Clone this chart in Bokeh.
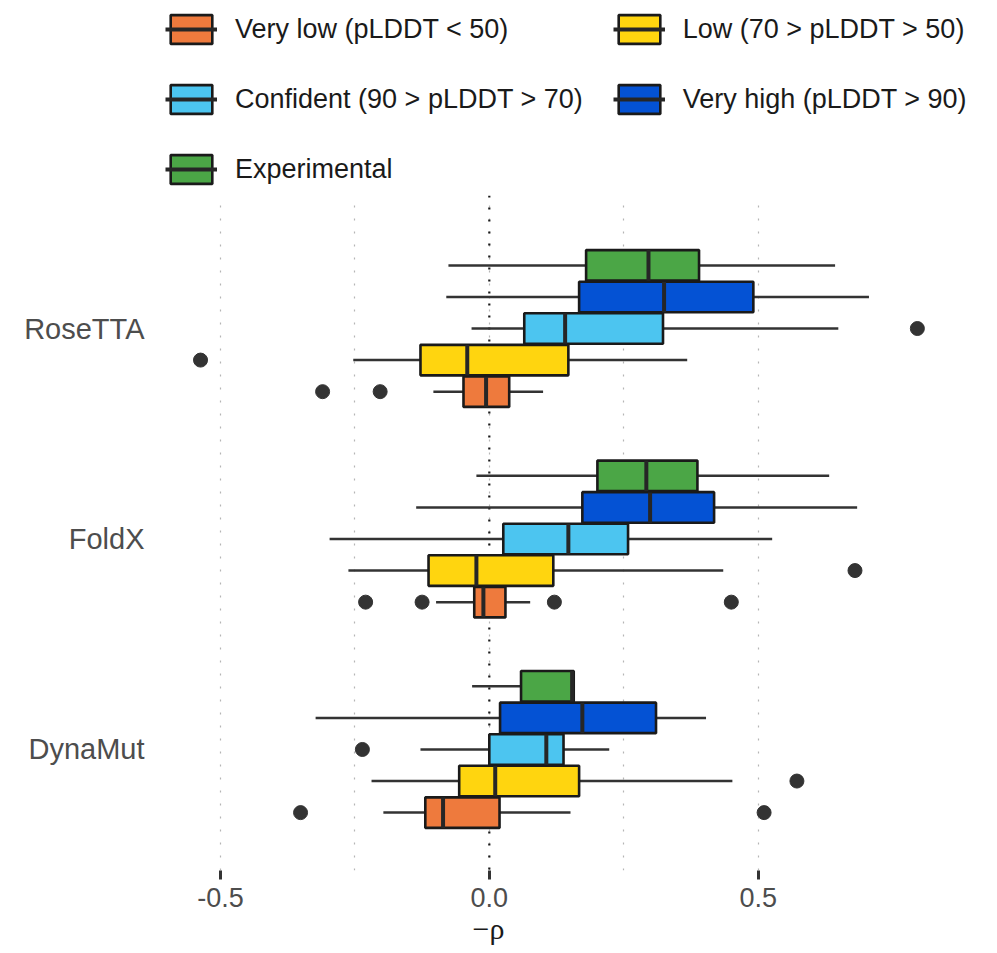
from bokeh.plotting import figure
from bokeh.models import ColumnDataSource, Legend, LegendItem, FixedTicker, Span, Title
from bokeh.layouts import column
from bokeh.embed import file_html
from bokeh.resources import INLINE

# ---------------- data ----------------
methods = ["RoseTTA", "FoldX", "DynaMut"]
classes = ["Very low (pLDDT < 50)", "Low (70 > pLDDT > 50)",
           "Confident (90 > pLDDT > 70)", "Very high (pLDDT > 90)", "Experimental"]
colors = ["#EE7A3D", "#FFD50F", "#4CC5F0", "#0452D4", "#4BA646"]

# rows: methods (RoseTTA, FoldX, DynaMut); columns: classes in the order above
whisker_low = [
    [-0.104, -0.253, -0.033, -0.080, -0.076],
    [-0.099, -0.262, -0.297, -0.136, -0.024],
    [-0.197, -0.219, -0.128, -0.323, -0.032],
]
q1 = [
    [-0.048, -0.128, 0.065, 0.167, 0.180],
    [-0.028, -0.113, 0.026, 0.173, 0.201],
    [-0.119, -0.056, 0.000, 0.020, 0.059],
]
median = [
    [-0.006, -0.041, 0.141, 0.325, 0.296],
    [-0.011, -0.024, 0.147, 0.299, 0.292],
    [-0.086, 0.011, 0.106, 0.173, 0.154],
]
q3 = [
    [0.037, 0.147, 0.323, 0.491, 0.390],
    [0.030, 0.119, 0.258, 0.418, 0.387],
    [0.019, 0.167, 0.138, 0.310, 0.157],
]
whisker_high = [
    [0.100, 0.368, 0.649, 0.706, 0.643],
    [0.076, 0.435, 0.526, 0.684, 0.632],
    [0.151, 0.452, 0.223, 0.403, 0.157],
]
outlier_method = ["RoseTTA", "RoseTTA", "RoseTTA", "RoseTTA",
                  "FoldX", "FoldX", "FoldX", "FoldX", "FoldX",
                  "DynaMut", "DynaMut", "DynaMut", "DynaMut"]
outlier_class = [classes[0], classes[0], classes[1], classes[2],
                 classes[0], classes[0], classes[0], classes[0], classes[1],
                 classes[0], classes[0], classes[1], classes[2]]
outlier_value = [-0.310, -0.203, -0.537, 0.796,
                 -0.230, -0.125, 0.121, 0.450, 0.680,
                 -0.351, 0.511, 0.572, -0.236]
x_ticks = [-0.5, 0, 0.5]
x_tick_labels = ["-0.5", "0.0", "0.5"]
grid_ticks = [-0.5, -0.25, 0.0, 0.25, 0.5]
x_title = "\u2212\u03c1"

# ---------------- layout constants ----------------
method_pos = {"RoseTTA": 3, "FoldX": 2, "DynaMut": 1}
dodge_step = 0.15
box_h = 0.145
FIG_W = 990
LEG_H = 195
MAIN_H = 758

BOX_LINE = dict(line_color="#1a1a1a", line_width=2.6)
MED_LINE = dict(line_color="#262626", line_width=4)


def ypos(method, cls_index):
    return method_pos[method] + (cls_index - 2) * dodge_step


p = figure(width=FIG_W, height=MAIN_H, x_range=(-0.604, 0.932), y_range=(0.425, 3.632),
           output_backend="svg", toolbar_location=None,
           min_border_left=164, min_border_right=0, min_border_top=0,
           min_border_bottom=83)
p.outline_line_color = None
p.background_fill_color = "white"

# grid
p.ygrid.visible = False
p.xgrid.ticker = FixedTicker(ticks=grid_ticks)
p.xgrid.grid_line_color = "#b5b5b5"
p.xgrid.grid_line_dash = "2 11"
p.xgrid.grid_line_width = 1.2
p.add_layout(Span(location=0, dimension="height", line_color="#1a1a1a",
                  line_dash="2 10", line_width=2.2, level="underlay"))

# whiskers
for c in range(len(classes)):
    ys = [ypos(m, c) for m in methods]
    src = ColumnDataSource(dict(y=ys, lo=[whisker_low[i][c] for i in range(3)],
                                hi=[whisker_high[i][c] for i in range(3)]))
    p.segment(x0="lo", y0="y", x1="hi", y1="y", source=src,
              line_color="#333333", line_width=2.5)

# boxes + medians
class_sources = []
for c in range(len(classes)):
    ys = [ypos(m, c) for m in methods]
    src = ColumnDataSource(dict(
        y=ys,
        q1=[q1[i][c] for i in range(3)],
        q3=[q3[i][c] for i in range(3)],
        med=[median[i][c] for i in range(3)],
        y0=[y - box_h / 2 for y in ys],
        y1=[y + box_h / 2 for y in ys],
    ))
    class_sources.append(src)
    p.hbar(y="y", left="q1", right="q3", height=box_h, source=src,
           fill_color=colors[c], **BOX_LINE)
    p.segment(x0="med", y0="y0", x1="med", y1="y1", source=src, **MED_LINE)

# outliers
osrc = ColumnDataSource(dict(
    x=outlier_value,
    y=[ypos(m, classes.index(c)) for m, c in zip(outlier_method, outlier_class)],
))
p.scatter(x="x", y="y", source=osrc, size=14, fill_color="#333333", line_color="#333333")

# x axis
xa = p.xaxis[0]
xa.ticker = FixedTicker(ticks=x_ticks)
xa.major_label_overrides = dict(zip(x_ticks, x_tick_labels))
xa.axis_line_color = None
xa.major_tick_line_color = "#333333"
xa.major_tick_line_width = 3
xa.major_tick_out = 9
xa.major_tick_in = 0
xa.minor_tick_line_color = None
xa.major_label_text_font = "Liberation Sans"
xa.major_label_text_font_size = "27px"
xa.major_label_text_color = "#4d4d4d"
xa.major_label_standoff = 8

# x axis title, centred under the 0.0 tick as in the original
p.add_layout(Title(text=x_title, align="left", offset=308, standoff=0,
                   text_font="Liberation Serif", text_font_size="30px",
                   text_font_style="normal", text_color="#1a1a1a"), "below")

# y axis
ya = p.yaxis[0]
ya.ticker = FixedTicker(ticks=[method_pos[m] for m in methods])
ya.major_label_overrides = {method_pos[m]: m for m in methods}
ya.axis_line_color = None
ya.major_tick_line_color = None
ya.minor_tick_line_color = None
ya.major_label_text_font = "Liberation Sans"
ya.major_label_text_font_size = "29px"
ya.major_label_text_color = "#4d4d4d"
ya.major_label_standoff = 14

# ---------------- legend (own strip above the plot) ----------------
lf = figure(width=FIG_W, height=LEG_H, x_range=(10, 11), y_range=(10, 11),
            output_backend="svg", toolbar_location=None,
            x_axis_location=None, y_axis_location=None,
            min_border_left=0, min_border_right=0, min_border_top=0, min_border_bottom=0)
lf.outline_line_color = None
lf.grid.visible = False
items = []
for c in range(len(classes)):
    src = class_sources[c]
    kb = lf.hbar(y="y", left="q1", right="q3", height=box_h, source=src,
                 fill_color=colors[c], **BOX_LINE)
    km = lf.segment(x0="med", y0="y0", x1="med", y1="y1", source=src, **MED_LINE)
    kb.visible = False
    km.visible = False
    items.append(LegendItem(label=classes[c], renderers=[kb, km]))

legend = Legend(
    items=items, location=(1, 6), orientation="horizontal", ncols=2,
    glyph_width=52, glyph_height=36, label_height=40, label_standoff=18, spacing=30,
    padding=0, margin=0, border_line_color=None, background_fill_alpha=0,
    label_text_font="Liberation Sans", label_text_font_size="27px",
    label_text_color="#1a1a1a",
)
lf.add_layout(legend)

layout = column(lf, p, spacing=0)
open("out.html", "w").write(file_html(layout, INLINE))
